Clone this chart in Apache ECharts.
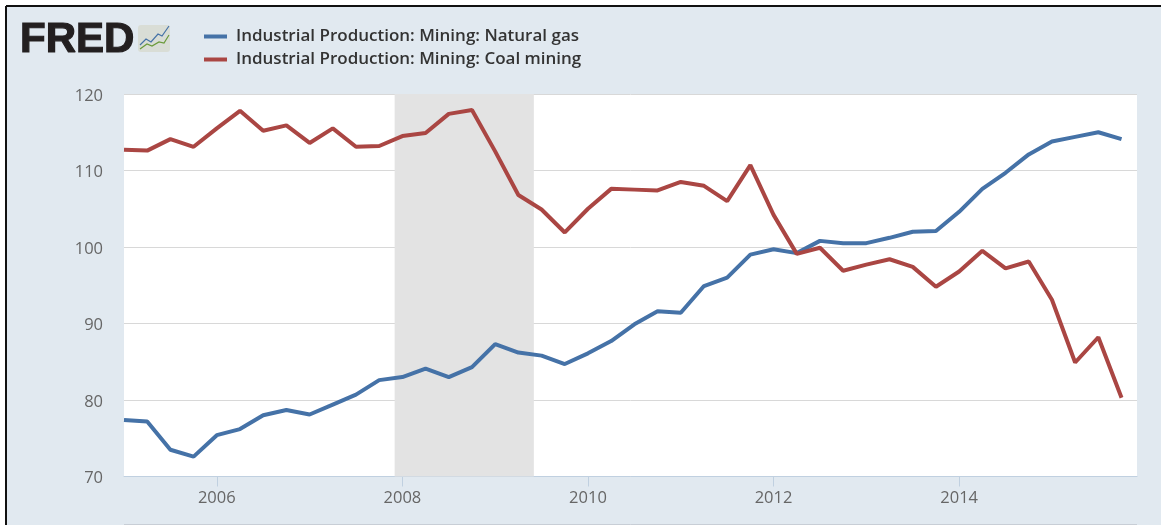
<!DOCTYPE html>
<html><head><meta charset="utf-8">
<style>html,body{margin:0;padding:0;background:#fff}#c{width:1161px;height:525px}</style>
<script src="https://cdn.jsdelivr.net/npm/echarts@6/dist/echarts.min.js"></script>
</head><body><div id="c"></div>
<script>
const quarters = [
'2005-01','2005-04','2005-07','2005-10','2006-01','2006-04','2006-07','2006-10',
'2007-01','2007-04','2007-07','2007-10','2008-01','2008-04','2008-07','2008-10',
'2009-01','2009-04','2009-07','2009-10','2010-01','2010-04','2010-07','2010-10',
'2011-01','2011-04','2011-07','2011-10','2012-01','2012-04','2012-07','2012-10',
'2013-01','2013-04','2013-07','2013-10','2014-01','2014-04','2014-07','2014-10',
'2015-01','2015-04','2015-07','2015-10'];
const naturalGas = [77.4,77.2,73.5,72.6,75.4,76.2,78.0,78.7,78.1,79.4,80.7,82.6,83.0,84.1,83.0,84.3,87.3,86.2,85.8,84.7,86.1,87.7,89.9,91.6,91.4,94.9,96.0,99.0,99.7,99.2,100.8,100.5,100.5,101.2,102.0,102.1,104.6,107.6,109.7,112.1,113.8,114.4,115.0,114.1];
const coalMining = [112.7,112.6,114.1,113.1,115.5,117.8,115.2,115.9,113.6,115.5,113.1,113.2,114.5,114.9,117.4,117.9,112.5,106.8,104.9,101.9,105.0,107.6,107.5,107.4,108.5,108.0,106.0,110.7,104.2,99.1,99.9,96.9,97.7,98.4,97.4,94.8,96.8,99.5,97.2,98.1,93.1,84.9,88.2,80.3];
const yearTicks = [2006,2008,2010,2012,2014];
const recession = ['2007-12','2009-06'];
const axisRange = ['2005-01','2015-12'];
const seriesNames = ['Industrial Production: Mining: Natural gas','Industrial Production: Mining: Coal mining'];
const colors = ['#4572a7','#aa4643'];

const yr = s => { const [y,m] = s.split('-').map(Number); return y+(m-1)/12; };
const chart = echarts.init(document.getElementById('c'), null, {renderer:'canvas'});
const font = '"Open Sans", sans-serif';
chart.setOption({
  animation:false,
  backgroundColor:'#fff',
  graphic:[
    {type:'rect',silent:true,z:-10,shape:{x:6,y:6,width:1155,height:519},style:{fill:'#e1e9f0'}},
    {type:'line',silent:true,shape:{x1:6,y1:6,x2:1161,y2:6},style:{stroke:'#111',lineWidth:2}},
    {type:'line',silent:true,shape:{x1:6,y1:6,x2:6,y2:525},style:{stroke:'#111',lineWidth:2}},
    {type:'line',silent:true,shape:{x1:124,y1:524.5,x2:1137,y2:524.5},style:{stroke:'#c8ced6',lineWidth:1}},
    {type:'text',silent:true,x:20,y:19,style:{text:'FRED',font:'900 42px "Liberation Sans", sans-serif',fill:'#231f20',stroke:'#231f20',lineWidth:1.2}},
    {type:'rect',silent:true,shape:{x:138,y:25,width:32,height:27,r:3},style:{fill:'#d9ddd6'}},
    {type:'polyline',silent:true,shape:{points:[[140,45],[146,39],[151,42],[158,34],[162,36],[169,26]]},style:{stroke:'#4572a7',lineWidth:1.2,fill:'none'}},
    {type:'polyline',silent:true,shape:{points:[[140,49],[147,44],[152,46],[159,42],[164,43],[169,35]]},style:{stroke:'#6a9a3a',lineWidth:1.2,fill:'none'}}
  ],
  legend:{
    left:204,top:27,padding:0,orient:'vertical',itemGap:4,itemWidth:23,itemHeight:4,icon:'rect',
    data:seriesNames,selectedMode:false,
    textStyle:{fontFamily:font,fontSize:17,lineHeight:19,fontWeight:600,color:'#333',padding:[0,0,0,4]}
  },
  grid:{left:124,right:24,top:94,bottom:48.5,backgroundColor:'#fff',show:true,borderWidth:0},
  xAxis:{
    type:'value',min:yr(axisRange[0]),max:yr(axisRange[1]),
    axisLine:{show:true,lineStyle:{color:'#c0d0e0',width:1}},
    axisTick:{show:true,length:10,lineStyle:{color:'#c0d0e0'},customValues:yearTicks},
    axisLabel:{customValues:yearTicks,formatter:v=>String(v),
      color:'#666',fontFamily:font,fontSize:16.5,margin:13},
    splitLine:{show:false}
  },
  yAxis:{
    type:'value',min:70,max:120,interval:10,
    axisLine:{show:false},axisTick:{show:false},
    axisLabel:{margin:21,formatter:'{a|{value}}',
      rich:{a:{color:'#666',fontFamily:font,fontSize:16.5,padding:[4,0,0,0]}}},
    splitLine:{show:true,lineStyle:{color:'#d8d8d8',width:1}}
  },
  series:[
    {name:seriesNames[0],type:'line',showSymbol:false,symbol:'none',
     data:quarters.map((q,i)=>[yr(q),naturalGas[i]]),lineStyle:{color:colors[0],width:4},itemStyle:{color:colors[0]},z:3,
     markArea:{silent:true,z:1,itemStyle:{color:'#e3e3e3',opacity:1},data:[[{xAxis:yr(recession[0])},{xAxis:yr(recession[1])}]]}},
    {name:seriesNames[1],type:'line',showSymbol:false,symbol:'none',
     data:quarters.map((q,i)=>[yr(q),coalMining[i]]),lineStyle:{color:colors[1],width:4},itemStyle:{color:colors[1]},z:4}
  ]
});
</script></body></html>
